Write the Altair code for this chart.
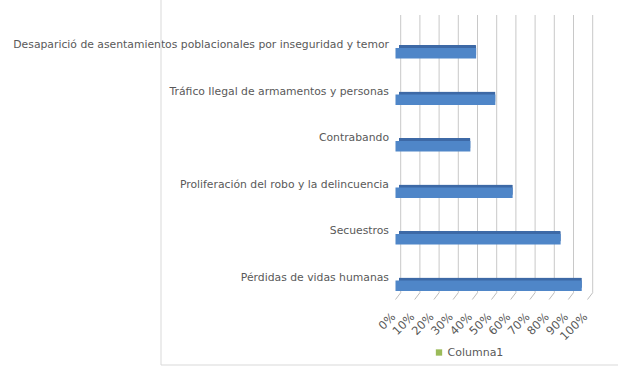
import altair as alt
import pandas as pd

categories = [
    "Desaparició de asentamientos poblacionales por inseguridad y temor",
    "Tráfico Ilegal de armamentos y personas",
    "Contrabando",
    "Proliferación del robo y la delincuencia",
    "Secuestros",
    "Pérdidas de vidas humanas",
]
values = [0.42, 0.52, 0.39, 0.61, 0.86, 0.97]
tick_values = [0.0, 0.1, 0.2, 0.3, 0.4, 0.5, 0.6, 0.7, 0.8, 0.9, 1.0]
series_name = ["Columna1"]

df = pd.DataFrame({"cat": categories, "val": values})
ticks_df = pd.DataFrame({"t": tick_values})
legend_df = pd.DataFrame({"s": series_name})

TXT = "#595959"
FONT = "DejaVu Sans"
x_scale = alt.Scale(domain=[0, 1], nice=False, zero=True)
y_scale = alt.Scale(paddingInner=0, paddingOuter=0)

x_axis = alt.Axis(
    values=tick_values, format=".0%", labelAngle=-45, labelAlign="right",
    labelBaseline="middle", grid=False, domain=False, ticks=False,
    labelPadding=6, labelOffset=-2, labelFontSize=11.5, labelColor=TXT, labelFont=FONT,
    title=None, labelOverlap=False, labelFlush=False, labelBound=False,
)
y_axis = alt.Axis(
    domain=False, ticks=False, grid=False, labelPadding=7, labelOffset=-8,
    labelLimit=500, labelFontSize=10.8, labelColor=TXT, labelFont=FONT, title=None,
    labelOverlap=False,
)

grid = alt.Chart(ticks_df).mark_rule(color="#c8c8c8", strokeWidth=1, xOffset=5.2).encode(
    x=alt.X("t:Q", scale=x_scale, axis=x_axis, title=None),
    y=alt.value(-15),
    y2=alt.value(262.7),
)

floor = alt.Chart(ticks_df).mark_rule(color="#bdbdbd", strokeWidth=1, x2Offset=5.2).encode(
    x=alt.X("t:Q", scale=x_scale, axis=x_axis, title=None),
    x2="t:Q",
    y=alt.value(269.5),
    y2=alt.value(262.7),
)

back = alt.Chart(df).mark_bar(height=10.5, color="#3d69a6", xOffset=3.5, yOffset=-3, cornerRadius=1).encode(
    x=alt.X("val:Q", scale=x_scale, axis=x_axis, title=None),
    y=alt.Y("cat:N", sort=categories, scale=y_scale, axis=y_axis, title=None),
)

front = alt.Chart(df).mark_bar(height=10.5, color="#4f86c8").encode(
    x=alt.X("val:Q", scale=x_scale, axis=x_axis, title=None),
    y=alt.Y("cat:N", sort=categories, scale=y_scale, axis=y_axis, title=None),
)

legend_layer = alt.Chart(legend_df).mark_square(opacity=0).encode(
    color=alt.Color(
        "s:N",
        scale=alt.Scale(domain=series_name, range=["#9bbb59"]),
        legend=alt.Legend(
            orient="none", legendX=38, legendY=317, title=None, symbolType="square",
            symbolSize=40, symbolOpacity=1, symbolStrokeWidth=0, labelFontSize=11,
            labelColor=TXT, labelFont=FONT, padding=0, labelOffset=3,
        ),
    )
)

frame_v = alt.Chart(pd.DataFrame({"a": [0]})).mark_rule(color="#d9d9d9").encode(
    x=alt.value(-234.5), y=alt.value(-31), y2=alt.value(335)
)
frame_h = alt.Chart(pd.DataFrame({"a": [0]})).mark_rule(color="#d9d9d9").encode(
    x=alt.value(-234.5), x2=alt.value(230), y=alt.value(335)
)

chart = alt.layer(frame_v, frame_h, grid, floor, back, front, legend_layer).properties(
    width=192,
    height=279,
    autosize=alt.AutoSizeParams(type="none"),
    padding={"left": 395.5, "top": 30, "right": 30.5, "bottom": 57},
).configure(font=FONT, view=alt.ViewConfig(stroke=None))

chart.save("out.html", embed_options={"renderer": "svg", "actions": False})
